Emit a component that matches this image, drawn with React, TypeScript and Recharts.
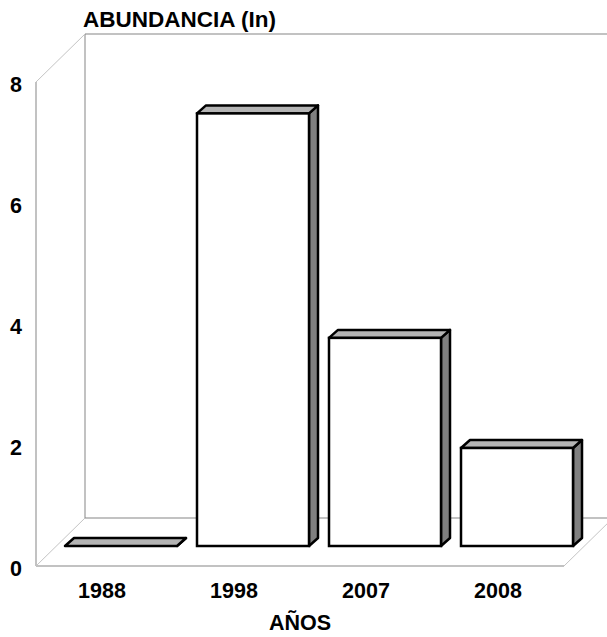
import { BarChart, Bar, XAxis, YAxis, Customized } from 'recharts';

const categories = ['1988', '1998', '2007', '2008'];
const abundance = [0, 7.15, 3.44, 1.62];
const yTicks = [0, 2, 4, 6, 8];

const W = 607;
const H = 637;
const PLOT_LEFT = 55;
const PLOT_TOP = 62;
const PLOT_W = 528;
const PLOT_H = 484;
const PLOT_BOTTOM = PLOT_TOP + PLOT_H;
// offsets of the front and back planes relative to the bar plane
const FRONT = { dx: -19, dy: 20 };
const BACK = { dx: 30, dy: -28 };
const DEPTH = { dx: 9, dy: 8 };

const FONT = '"Liberation Sans", Arial, sans-serif';

const data = categories.map((c, i) => ({ year: c, value: abundance[i] }));

function Bar3D(props: any) {
  const { x, y, width, height } = props;
  const h = Math.max(height || 0, 0);
  const { dx, dy } = DEPTH;
  const top = `${x},${y} ${x + dx},${y - dy} ${x + width + dx},${y - dy} ${x + width},${y}`;
  const side = `${x + width},${y} ${x + width + dx},${y - dy} ${x + width + dx},${y + h - dy} ${x + width},${y + h}`;
  return (
    <g>
      <polygon points={side} fill="#808080" stroke="#000" strokeWidth={2.5} strokeLinejoin="round" />
      <polygon points={top} fill="#b4b4b4" stroke="#000" strokeWidth={2.5} strokeLinejoin="round" />
      {h > 0 && <rect x={x} y={y} width={width} height={h} fill="#fff" stroke="#000" strokeWidth={2.5} />}
    </g>
  );
}

function Frame() {
  const fl = PLOT_LEFT + FRONT.dx;
  const fr = PLOT_LEFT + PLOT_W + FRONT.dx;
  const fb = PLOT_BOTTOM + FRONT.dy;
  const ft = PLOT_TOP + FRONT.dy;
  const bl = PLOT_LEFT + BACK.dx;
  const br = PLOT_LEFT + PLOT_W + BACK.dx;
  const bb = PLOT_BOTTOM + BACK.dy;
  const bt = PLOT_TOP + BACK.dy;
  const dark = '#858585';
  const light = '#c4c4c4';
  return (
    <g>
      <line x1={bl} y1={bt} x2={bl} y2={bb} stroke={dark} />
      <line x1={bl} y1={bt} x2={br} y2={bt} stroke={dark} />
      <line x1={bl} y1={bb} x2={br} y2={bb} stroke={dark} />
      <line x1={fl} y1={ft} x2={fl} y2={fb} stroke={dark} />
      <line x1={fl} y1={fb} x2={fr} y2={fb} stroke={dark} />
      <line x1={fl} y1={ft} x2={bl} y2={bt} stroke={light} />
      <line x1={fl} y1={fb} x2={bl} y2={bb} stroke={light} />
      <line x1={fr} y1={fb} x2={br} y2={bb} stroke={light} />
      <text x={83} y={27} fontFamily={FONT} fontWeight="bold" fontSize={22.5} fill="#000">
        ABUNDANCIA (In)
      </text>
      <text x={(fl + fr) / 2} y={630} textAnchor="middle" fontFamily={FONT} fontWeight="bold" fontSize={21.5} fill="#000">
        AÑOS
      </text>
    </g>
  );
}

const YTick = (props: any) => {
  const { y, payload } = props;
  return (
    <text x={16} y={y + FRONT.dy + 10} textAnchor="middle" fontFamily={FONT} fontWeight="bold" fontSize={21.5} fill="#000">
      {payload.value}
    </text>
  );
};

const XTick = (props: any) => {
  const { x, payload } = props;
  return (
    <text x={x + FRONT.dx} y={PLOT_BOTTOM + 52} textAnchor="middle" fontFamily={FONT} fontWeight="bold" fontSize={21.5} fill="#000">
      {payload.value}
    </text>
  );
};

export default function App() {
  return (
    <div style={{ position: 'absolute', left: 0, top: 0, width: W, height: H, background: '#fff' }}>
      <BarChart
        width={W}
        height={H}
        data={data}
        margin={{ top: PLOT_TOP, right: W - PLOT_LEFT - PLOT_W, bottom: 0, left: 0 }}
      >
        <Customized component={Frame} />
        <XAxis dataKey="year" height={H - PLOT_BOTTOM} axisLine={false} tickLine={false} tick={XTick} />
        <YAxis
          width={PLOT_LEFT}
          domain={[0, 8]}
          ticks={yTicks}
          axisLine={false}
          tickLine={false}
          tick={YTick}
        />
        <Bar dataKey="value" barSize={112} shape={Bar3D} isAnimationActive={false} />
      </BarChart>
    </div>
  );
}
